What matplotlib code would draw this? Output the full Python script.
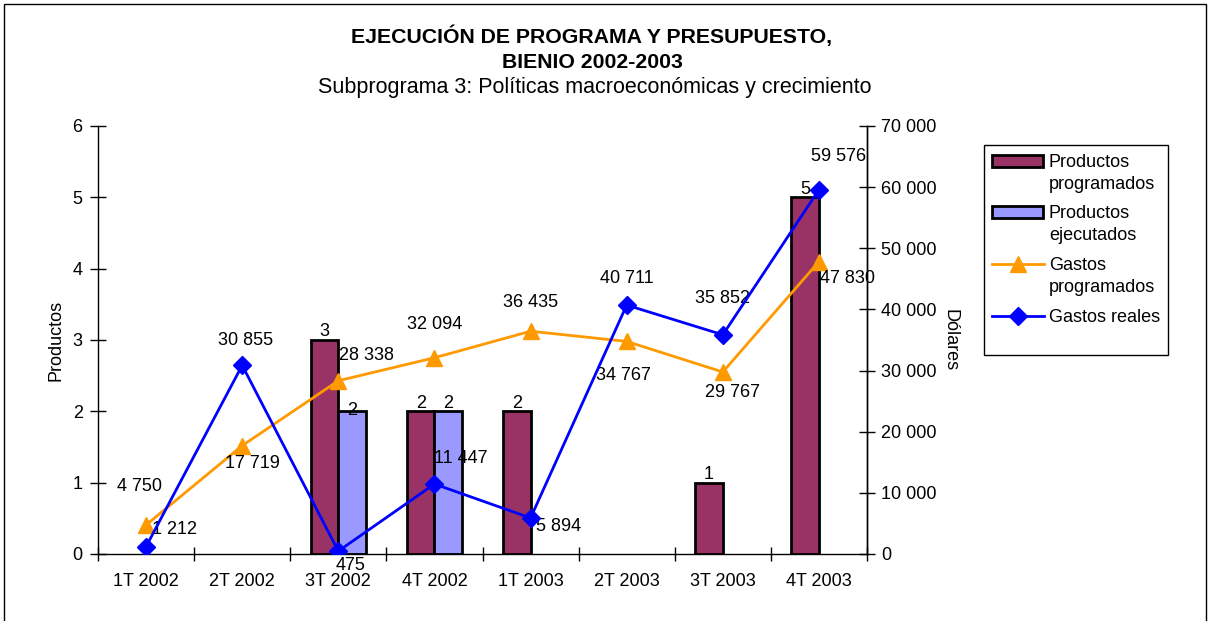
# -*- coding: utf-8 -*-
import numpy as np
import matplotlib
matplotlib.use('Agg')
from matplotlib import pyplot as plt
from matplotlib.patches import Rectangle
from matplotlib.lines import Line2D
from matplotlib.ticker import FuncFormatter

# datos del gráfico
trimestres = ['1T 2002', '2T 2002', '3T 2002', '4T 2002',
              '1T 2003', '2T 2003', '3T 2003', '4T 2003']
productos_programados = [0, 0, 3, 2, 2, 0, 1, 5]
productos_ejecutados = [0, 0, 2, 2, 0, 0, 0, 0]
gastos_programados = [4750, 17719, 28338, 32094, 36435, 34767, 29767, 47830]
gastos_reales = [1212, 30855, 475, 11447, 5894, 40711, 35852, 59576]
series = ['Productos\nprogramados', 'Productos\nejecutados',
          'Gastos\nprogramados', 'Gastos reales']

# desplazamiento de las etiquetas (pixeles), como en el original
off_prog = [(-7, 38), (10, -18), (28, 25), (0, 33), (0, 29), (-3, -34), (10, -21), (29, -17)]
off_real = [(28, 17), (3, 25), (12, -14), (26, 26), (28, -9), (0, 27), (0, 36), (20, 33)]

plt.rcParams['font.family'] = ['Liberation Sans', 'DejaVu Sans']
plt.rcParams['font.size'] = 13

C_PROG = '#993366'
C_EJEC = '#9999FF'
C_NAR = '#FF9900'
C_AZUL = '#0000FF'

W, H = 1212, 621


def miles(v, pos=None):
    return '{:,.0f}'.format(v).replace(',', ' ')


def fx(px):
    return px / W


def fy(py):
    return 1 - py / H


fig = plt.figure(figsize=(W / 100, H / 100), dpi=100)
ax = fig.add_axes([fx(98), fy(554), (867 - 98) / W, (554 - 126) / H])
ax2 = ax.twinx()

x = np.arange(len(trimestres))
w = 0.286

# barras (sin dibujar las de valor cero)
for i in range(len(x)):
    if productos_programados[i]:
        ax.bar(x[i] - w / 2, productos_programados[i], w, color=C_PROG,
               edgecolor='black', linewidth=2)
        ax.annotate(str(productos_programados[i]), (x[i] - w / 2, productos_programados[i]),
                    xytext=(0, 8), textcoords='offset pixels', ha='center', va='center')
    if productos_ejecutados[i]:
        ax.bar(x[i] + w / 2, productos_ejecutados[i], w, color=C_EJEC,
               edgecolor='black', linewidth=2)
        off = 1 if i == 2 else 8
        ax.annotate(str(productos_ejecutados[i]), (x[i] + w / 2, productos_ejecutados[i]),
                    xytext=(0, off), textcoords='offset pixels', ha='center', va='center')

ax2.plot(x, gastos_programados, color=C_NAR, lw=2, marker='^', ms=11, zorder=3)
ax2.plot(x, gastos_reales, color=C_AZUL, lw=2, marker='D', ms=9, zorder=4)
for i in range(len(x)):
    ax2.annotate(miles(gastos_programados[i]), (x[i], gastos_programados[i]),
                 xytext=off_prog[i], textcoords='offset pixels', ha='center', va='center')
    ax2.annotate(miles(gastos_reales[i]), (x[i], gastos_reales[i]),
                 xytext=off_real[i], textcoords='offset pixels', ha='center', va='center')

ax.set_xlim(-0.5, len(x) - 0.5)
ax.set_ylim(0, 6)
ax2.set_ylim(0, 70000)
ax.set_yticks(range(7))
ax2.set_yticks(range(0, 70001, 10000))
ax2.yaxis.set_major_formatter(FuncFormatter(miles))
ax.set_xticks(x)
ax.set_xticklabels(trimestres)
ax.set_xticks(np.arange(-0.5, len(x)), minor=True)
ax.tick_params(axis='x', which='major', length=0, pad=14)
ax.tick_params(axis='x', which='minor', length=10, direction='inout', width=1)
ax.tick_params(axis='y', length=12, direction='inout', width=1, pad=5)
ax2.tick_params(axis='y', length=12, direction='inout', width=1, pad=4)

for a in (ax, ax2):
    a.spines['top'].set_visible(False)
    for s in a.spines.values():
        s.set_linewidth(1)
ax2.spines['left'].set_visible(False)
ax2.spines['bottom'].set_visible(False)

ax.set_ylabel('Productos', labelpad=6)
ax2.set_ylabel('Dólares', rotation=270, labelpad=16)

fig.text(fx(592), fy(36), 'EJECUCIÓN DE PROGRAMA Y PRESUPUESTO,', ha='center', va='center',
         fontsize=15.3, fontweight='bold')
fig.text(fx(592), fy(62), 'BIENIO 2002-2003', ha='center', va='center',
         fontsize=15.3, fontweight='bold')
fig.text(fx(595), fy(88), 'Subprograma 3: Políticas macroeconómicas y crecimiento',
         ha='center', va='center', fontsize=15.5)

# leyenda dibujada a mano: el símbolo va alineado con la primera línea del texto
fig.patches.append(Rectangle((fx(984), fy(355)), (1168 - 984) / W, (355 - 145) / H,
                             transform=fig.transFigure, facecolor='white',
                             edgecolor='black', linewidth=1))
base = [167, 218, 270, 322]
for k, txt in enumerate(series):
    yc = base[k] - 6
    if k < 2:
        fig.patches.append(Rectangle((fx(992), fy(yc + 6)), 51 / W, 12 / H,
                                     transform=fig.transFigure,
                                     facecolor=[C_PROG, C_EJEC][k],
                                     edgecolor='black', linewidth=2))
    else:
        fig.lines.append(Line2D([fx(992), fx(1044)], [fy(yc), fy(yc)],
                                transform=fig.transFigure, color=[C_NAR, C_AZUL][k - 2],
                                lw=2))
        fig.lines.append(Line2D([fx(1018)], [fy(yc)], transform=fig.transFigure,
                                color=[C_NAR, C_AZUL][k - 2], marker=['^', 'D'][k - 2],
                                ms=[11, 9][k - 2], lw=0))
    for j, linea in enumerate(txt.split('\n')):
        fig.text(fx(1049), fy(base[k] + 22 * j), linea, ha='left', va='baseline',
                 fontsize=13)

fig.patches.append(Rectangle((fx(4), -0.1), 1202 / W, 1.1 - 4 / H,
                             transform=fig.transFigure, fill=False,
                             edgecolor='black', linewidth=1))

plt.savefig('out.png', dpi=100)
